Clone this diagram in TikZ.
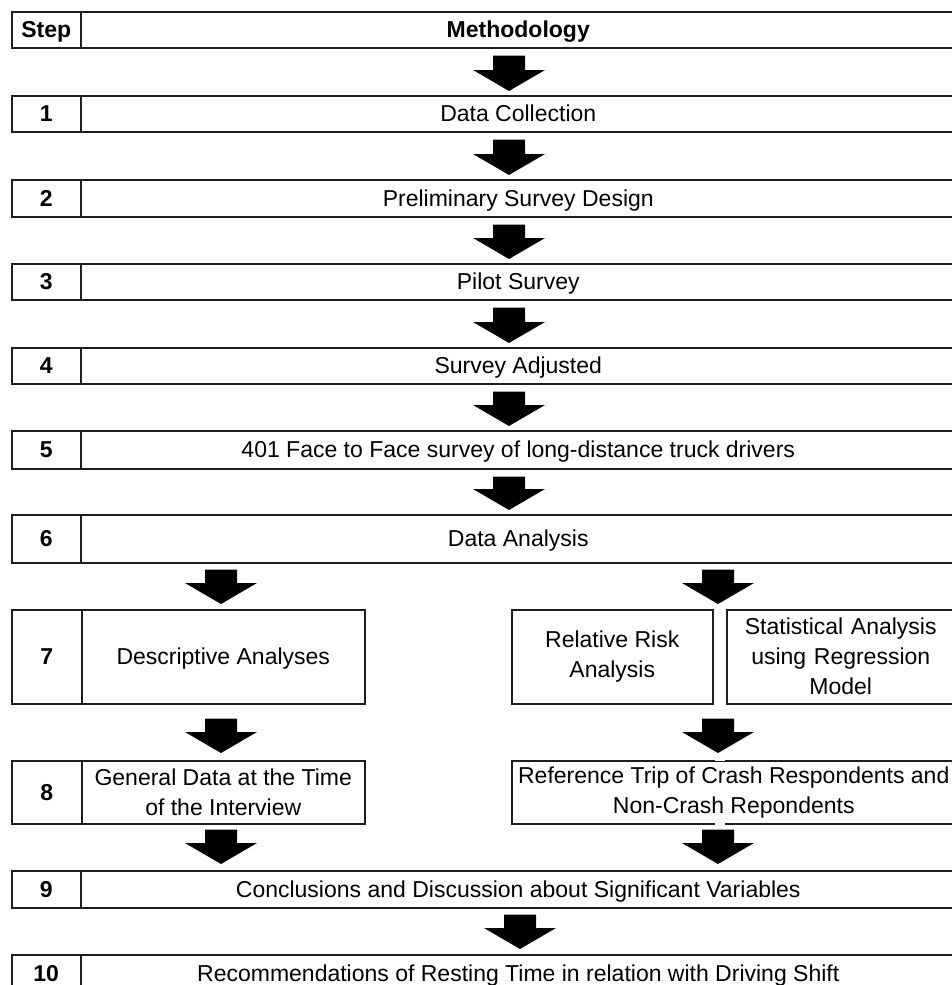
\documentclass[tikz,border=0pt]{standalone}
\usepackage{fontspec}
\setmainfont{Liberation Sans}
\usetikzlibrary{calc}
\definecolor{linec}{HTML}{1E1E1E}
\tikzset{
  cell/.style={draw=linec, line width=1.5pt, anchor=north west, inner sep=0pt,
    align=center, font=\fontsize{23}{30}\selectfont},
  oneline/.style={text height=20.8pt, text depth=4.9pt},
  arrc/.style={fill=black},
  gapline/.style={draw=white, line width=2.4pt}
}
\newcommand\fullrow[5]{%
  \node[cell, oneline, minimum width=69pt, minimum height=#3pt] (#1s) at (11,#2) {\bfseries #4};
  \node[cell, oneline, minimum width=875pt, minimum height=#3pt] (#1) at (80,#2) {#5};
}
\newcommand\blockarr[2]{%
  \fill[arrc] let \p1=#1, \p2=#2 in
    (\x1-16pt,\y1) -- (\x1+16pt,\y1) -- (\x1+16pt,\y2+21pt) -- (\x1+36pt,\y2+21pt)
    -- (\x1,\y2) -- (\x1-36pt,\y2+21pt) -- (\x1-16pt,\y2+21pt) -- cycle;}
\begin{document}
\begin{tikzpicture}[x=1pt,y=-1pt]
\useasboundingbox (0,0) rectangle (951,985);
\coordinate (cm) at (509,0);
\coordinate (cl) at (221,0);
\coordinate (cr) at (718,0);
\coordinate (cb) at (520,0);

\fullrow{h}{11}{36}{Step}{\bfseries Methodology}
\fullrow{ra}{95}{36}{1}{Data Collection}
\fullrow{rb}{179}{37}{2}{Preliminary Survey Design}
\fullrow{rc}{263}{36}{3}{Pilot Survey}
\fullrow{rd}{347}{36}{4}{Survey Adjusted}
\fullrow{re}{430}{38}{5}{401 Face to Face survey of long-distance truck drivers}
\fullrow{rf}{514}{48}{6}{Data Analysis}

% step 7
\node[cell, oneline, minimum width=70pt, minimum height=94pt] (rgs) at (11,609) {\bfseries 7};
\node[cell, oneline, minimum width=283pt, minimum height=94pt] (rg) at (81,609) {Descriptive Analyses};
\node[cell, minimum width=201pt, minimum height=94pt] (rr) at (511,609) {Relative Risk\\Analysis};
\node[cell, minimum width=240pt, minimum height=94pt, text width=232pt] (st) at (726,609)
  {\hspace*{-12pt}Statistical Analysis\\\hspace*{-12pt}using Regression\\\hspace*{-12pt}Model};

% step 8
\node[cell, oneline, minimum width=70pt, minimum height=63pt] (rhs) at (11,760) {\bfseries 8};
\node[cell, minimum width=283pt, minimum height=63pt] (rh) at (81,760) {General Data at the Time\\of the Interview};
\node[cell, minimum width=444pt, minimum height=63pt] (ref) at (511,760)
  {Reference Trip of Crash Respondents and\\Non-Crash Repondents};
\draw[gapline] ($(rr.east |- ref.north)+(1,0)$) -- ($(st.west |- ref.north)+(-1,0)$);
\draw[gapline] ($(rr.east |- ref.south)+(1,0)$) -- ($(st.west |- ref.south)+(-1,0)$);

\fullrow{ri}{870}{37}{9}{Conclusions and Discussion about Significant Variables}
\fullrow{rj}{954}{37}{10}{Recommendations of Resting Time in relation with Driving Shift}

% arrows
\blockarr{($(cm |- h.south)+(0,7)$)}{($(cm |- ra.north)+(0,-4)$)}
\blockarr{($(cm |- ra.south)+(0,7)$)}{($(cm |- rb.north)+(0,-4)$)}
\blockarr{($(cm |- rb.south)+(0,7)$)}{($(cm |- rc.north)+(0,-4)$)}
\blockarr{($(cm |- rc.south)+(0,7)$)}{($(cm |- rd.north)+(0,-4)$)}
\blockarr{($(cm |- rd.south)+(0,7)$)}{($(cm |- re.north)+(0,-4)$)}
\blockarr{($(cm |- re.south)+(0,7)$)}{($(cm |- rf.north)+(0,-4)$)}
\blockarr{($(cl |- rf.south)+(0,6)$)}{($(cl |- rg.north)+(0,-5)$)}
\blockarr{($(cr |- rf.south)+(0,6)$)}{($(cr |- rr.north)+(0,-5)$)}
\blockarr{($(cl |- rg.south)+(0,14)$)}{($(cl |- rh.north)+(0,-7)$)}
\blockarr{($(cr |- rr.south)+(0,14)$)}{($(cr |- ref.north)+(0,-7)$)}
\blockarr{($(cl |- rh.south)+(0,5)$)}{($(cl |- ri.north)+(0,-6)$)}
\blockarr{($(cr |- ref.south)+(0,5)$)}{($(cr |- ri.north)+(0,-6)$)}
\blockarr{($(cb |- ri.south)+(0,6)$)}{($(cb |- rj.north)+(0,-5)$)}
\end{tikzpicture}
\end{document}
